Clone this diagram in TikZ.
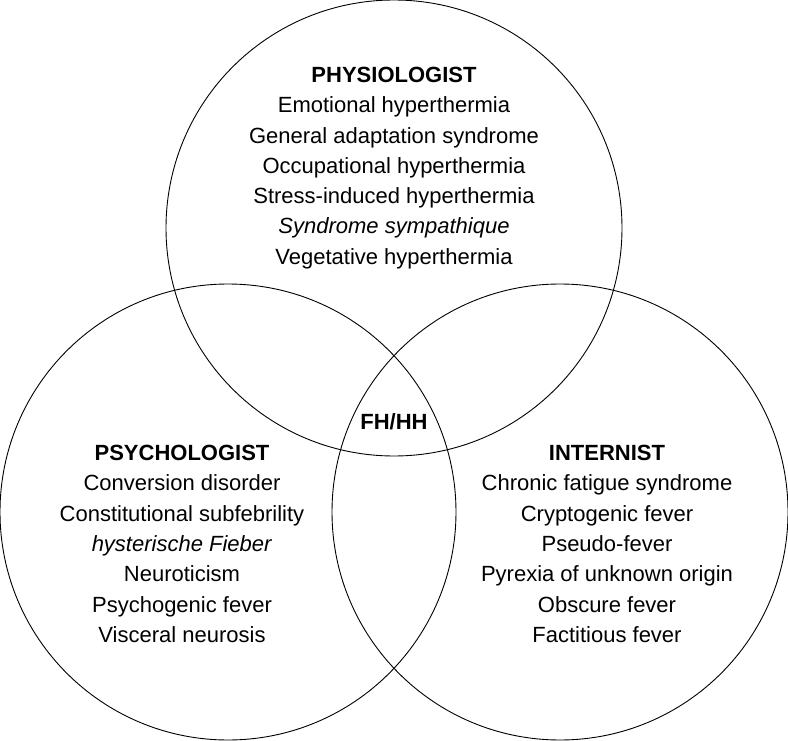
\documentclass[tikz,border=0pt]{standalone}
\usepackage{fontspec}
\setmainfont{Liberation Sans}
\begin{document}
\begin{tikzpicture}[x=1pt,y=-1pt,
  venn/.style={draw=black,line width=0.9pt,circle,minimum size=456pt,inner sep=0pt},
  block/.style={align=center,font=\fontsize{22}{30.3}\selectfont,inner sep=0pt},
  hd/.style={font=\fontsize{22}{30.3}\selectfont\bfseries,inner sep=0pt}]
\useasboundingbox (0,0) rectangle (788,741);
\node[venn] (phys) at (394,228) {};
\node[venn] (psych) at (228,512) {};
\node[venn] (intern) at (560,512) {};
\node[block] (tphys) at (394,168) {\textbf{PHYSIOLOGIST}\\Emotional hyperthermia\\General adaptation syndrome\\Occupational hyperthermia\\Stress-induced hyperthermia\\\textit{Syndrome sympathique}\\Vegetative hyperthermia};
\node[block] (tpsych) at (182,544) {\textbf{PSYCHOLOGIST}\\Conversion disorder\\Constitutional subfebrility\\\textit{hysterische Fieber}\\Neuroticism\\Psychogenic fever\\Visceral neurosis};
\node[block] (tintern) at (607,544) {\textbf{INTERNIST}\\Chronic fatigue syndrome\\Cryptogenic fever\\Pseudo-fever\\Pyrexia of unknown origin\\Obscure fever\\Factitious fever};
\node[hd] (fhhh) at (394,422) {FH/HH};
\end{tikzpicture}
\end{document}
